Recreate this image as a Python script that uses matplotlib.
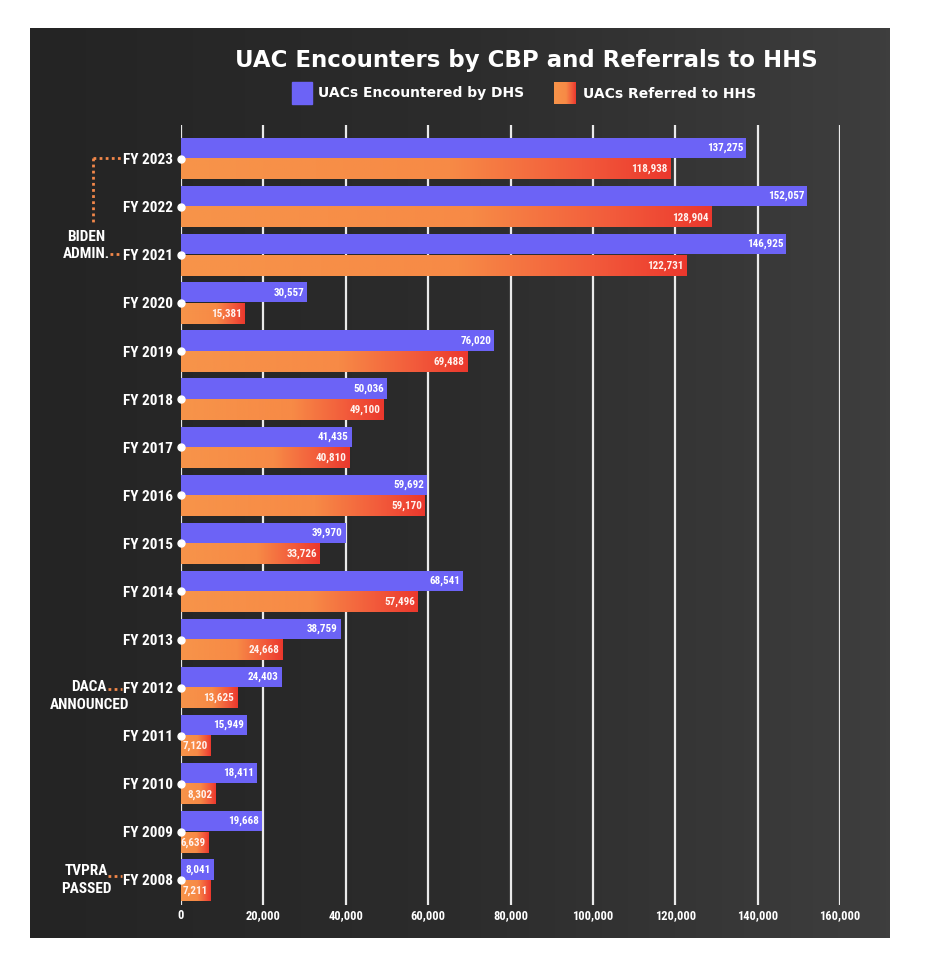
import numpy as np
import matplotlib
matplotlib.use("Agg")
import matplotlib.pyplot as plt
from matplotlib import font_manager as fm
from matplotlib.colors import LinearSegmentedColormap
from matplotlib.patches import Rectangle
from matplotlib.lines import Line2D

years = ["FY 2023", "FY 2022", "FY 2021", "FY 2020", "FY 2019", "FY 2018", "FY 2017", "FY 2016",
         "FY 2015", "FY 2014", "FY 2013", "FY 2012", "FY 2011", "FY 2010", "FY 2009", "FY 2008"]
encountered = [137275, 152057, 146925, 30557, 76020, 50036, 41435, 59692,
               39970, 68541, 38759, 24403, 15949, 18411, 19668, 8041]
referred = [118938, 128904, 122731, 15381, 69488, 49100, 40810, 59170,
            33726, 57496, 24668, 13625, 7120, 8302, 6639, 7211]
xticks = [0, 20000, 40000, 60000, 80000, 100000, 120000, 140000, 160000]

W, H = 932, 966
BLUE = "#6C63F6"
ORANGE_DOT = "#F2874A"
grad_cmap = LinearSegmentedColormap.from_list(
    "orred", [(0, "#F7944A"), (0.55, "#F78A46"), (0.82, "#F25A3B"), (1, "#EB382D")])

names = {f.name for f in fm.fontManager.ttflist}
narrow = next((n for n in ["Liberation Sans Narrow", "Roboto Condensed", "Open Sans Condensed"]
               if n in names), None)
if narrow:
    NARROW = dict(family=narrow, weight="bold")
else:
    NARROW = dict(family="DejaVu Sans", weight="bold", stretch="condensed")


def fx(x):
    return x / W


def fy(y):
    return 1 - y / H


fig = plt.figure(figsize=(W / 100, H / 100), dpi=100)
fig.patch.set_facecolor("white")

# dark backdrop in place of the photo
bg = fig.add_axes([fx(30), fy(938), 860 / W, 910 / H])
shade = np.linspace(0, 1, 200)[None, :]
bg.imshow(shade, cmap=LinearSegmentedColormap.from_list("bg", ["#242424", "#2c2c2c", "#3e3e3e"]),
          aspect="auto", extent=(0, 1, 0, 1))
bg.set_axis_off()

ax = fig.add_axes([fx(181), fy(905), (840 - 181) / W, (905 - 125) / H])
ax.set_facecolor("none")

pos = np.arange(len(years))
bh = 0.42

for x in xticks:
    ax.axvline(x, color="white", lw=1.6, alpha=0.9, zorder=1)

ax.barh(pos - 0.01 - bh / 2, encountered, height=bh, color=BLUE, zorder=3)
grad = np.linspace(0, 1, 256)[None, :]
for p, v in zip(pos, referred):
    ax.imshow(grad, cmap=grad_cmap, aspect="auto", extent=(0, v, p + 0.01 + bh, p + 0.01), zorder=3)

for p, v in zip(pos, encountered):
    ax.text(v - 700, p - 0.01 - bh / 2, f"{v:,}", ha="right", va="center",
            color="white", fontsize=8, zorder=4, **NARROW)
for p, v in zip(pos, referred):
    ax.text(v - 700, p + 0.01 + bh / 2, f"{v:,}", ha="right", va="center",
            color="#FFF2EE", fontsize=8, zorder=4, **NARROW)

ax.plot(np.zeros(len(pos)), pos, "o", color="white", ms=5, clip_on=False, zorder=5)

ax.set_xlim(0, 160000)
ax.set_ylim(15.52, -0.70)
ax.set_xticks(xticks)
ax.set_xticklabels([f"{x:,}" for x in xticks], color="white", fontsize=9, **NARROW)
ax.set_yticks(pos)
ax.set_yticklabels(years, color="white", fontsize=11, **NARROW)
ax.tick_params(length=0, pad=3)
ax.tick_params(axis="y", pad=6)
for s in ax.spines.values():
    s.set_visible(False)

# title and legend
fig.text(fx(526), fy(60), "UAC Encounters by CBP and Referrals to HHS", ha="center", va="center",
         color="white", fontsize=16.5, fontweight="bold")
fig.patches.append(Rectangle((fx(292), fy(104)), 20 / W, 22 / H, transform=fig.transFigure,
                             color=BLUE))
fig.text(fx(318), fy(93.5), "UACs Encountered by DHS", ha="left", va="center",
         color="white", fontsize=10, fontweight="bold")
lg = fig.add_axes([fx(554), fy(104), 22 / W, 22 / H])
lg.imshow(grad, cmap=grad_cmap, aspect="auto")
lg.set_axis_off()
fig.text(fx(583), fy(93.5), "UACs Referred to HHS", ha="left", va="center",
         color="white", fontsize=10, fontweight="bold")

# side annotations
dot_style = dict(color=ORANGE_DOT, lw=2, linestyle=(0, (1, 1.2)), transform=fig.transFigure)
fig.lines.append(Line2D([fx(93), fx(93)], [fy(158), fy(224)], **dot_style))
fig.lines.append(Line2D([fx(93), fx(122)], [fy(158), fy(158)], **dot_style))
fig.lines.append(Line2D([fx(110), fx(122)], [fy(254), fy(254)], **dot_style))
fig.lines.append(Line2D([fx(108), fx(122)], [fy(689), fy(689)], **dot_style))
fig.lines.append(Line2D([fx(108), fx(122)], [fy(876), fy(876)], **dot_style))

ann = dict(color="white", fontsize=11, ha="center", va="center", **NARROW)
fig.text(fx(86.5), fy(237), "BIDEN", **ann)
fig.text(fx(86.5), fy(254), "ADMIN.", **ann)
fig.text(fx(89), fy(687), "DACA", **ann)
fig.text(fx(90), fy(705), "ANNOUNCED", **ann)
fig.text(fx(86), fy(871), "TVPRA", **ann)
fig.text(fx(86), fy(889), "PASSED", **ann)

fig.savefig("out.png", dpi=100, facecolor="white")
